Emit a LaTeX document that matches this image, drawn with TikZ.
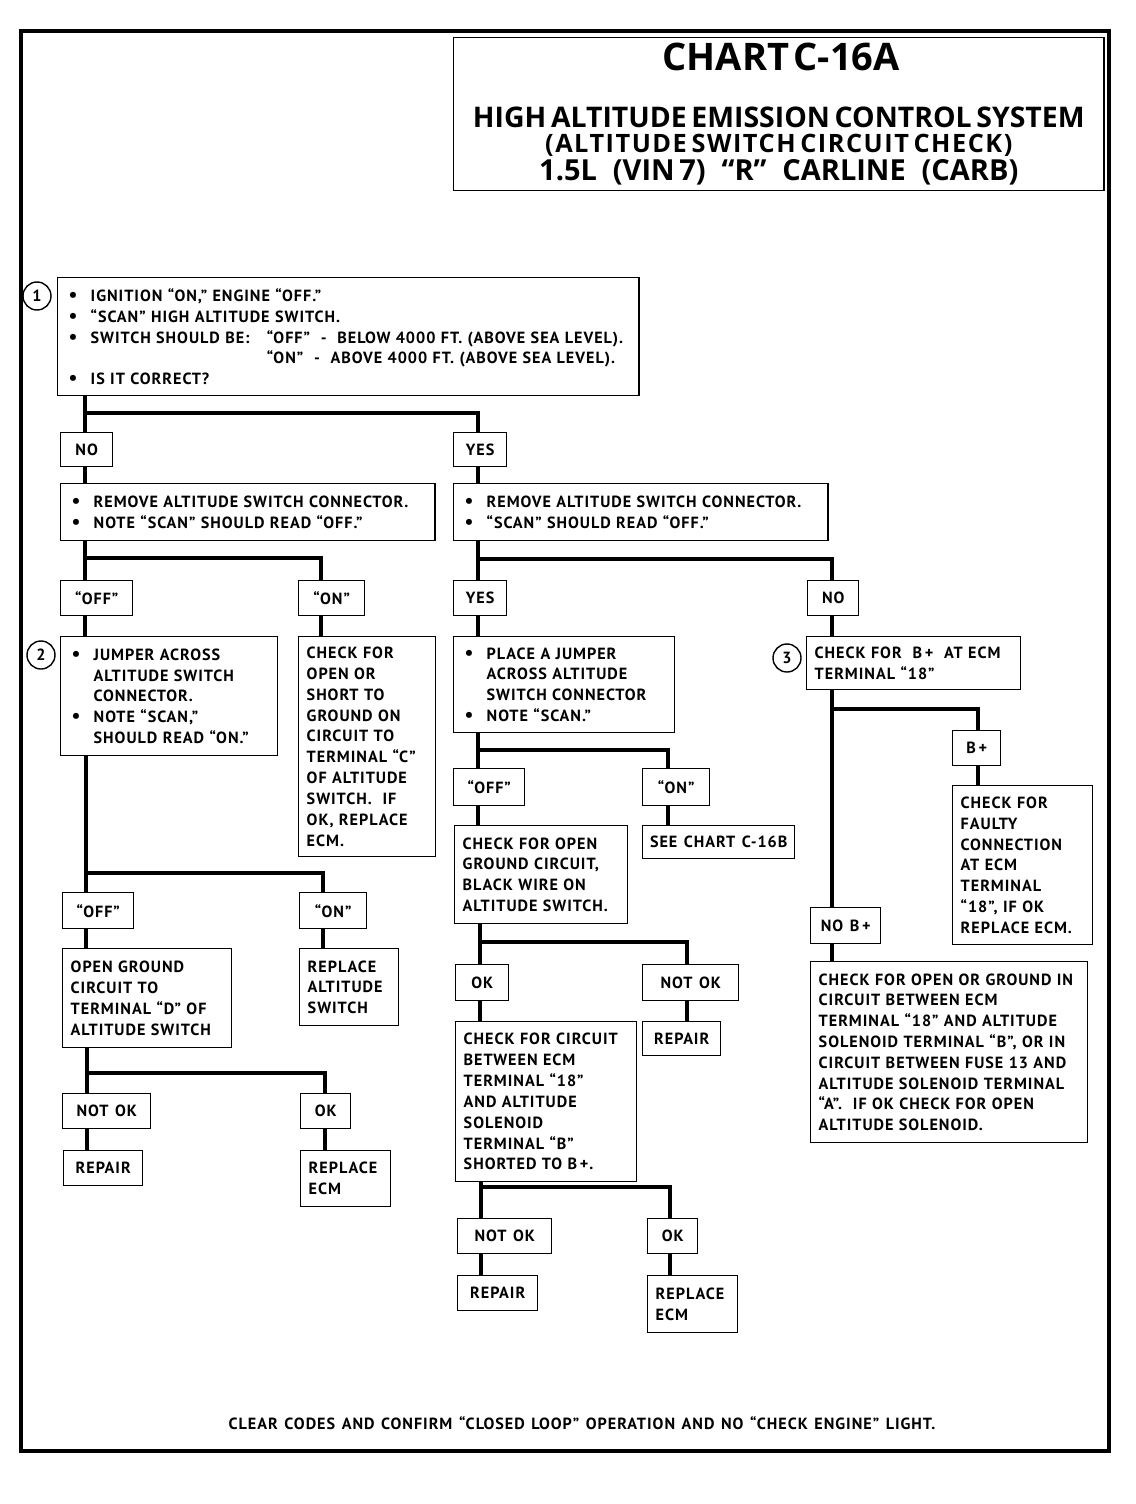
\documentclass[tikz,border=0pt]{standalone}
\usepackage{fontspec}
\setmainfont{PT Sans}[LetterSpace=6,WordSpace=1.3]
\newfontfamily\titlefont{Open Sans}
\newfontfamily\subtitlefont{Open Sans}[LetterSpace=6,WordSpace=2.2]
\usepackage{tikz}

\setlength{\parindent}{0pt}
\newcommand{\bodyfont}{\fontsize{11.5}{14.8}\selectfont\bfseries}
\newcommand{\blt}{\makebox[0.55cm][l]{\fontsize{14}{14}\selectfont\textbullet}}
\newcommand{\ind}{\hspace*{0.55cm}}
\newcommand{\gap}{\hspace{0.55em}}

\tikzset{
  box/.style={draw,line width=1pt,anchor=north west,align=left,inner xsep=0.2cm,inner ysep=2pt,font=\bodyfont},
  lbl/.style={draw,line width=1pt,anchor=north west,inner sep=0pt,font=\bodyfont},
  link/.style={line width=3.5pt},
  circ/.style={draw,circle,line width=1pt,minimum size=0.7cm,inner sep=0pt,font=\bodyfont}
}

\begin{document}
\begin{tikzpicture}[x=0.025cm,y=-0.025cm]
\useasboundingbox (0,0) rectangle (1136,1504);
\draw[line width=2.5pt] (21,31) rectangle (1109,1451);

% title
\node[draw,line width=1pt,anchor=north west,minimum width=16.25cm,minimum height=3.825cm,text width=15.8cm,align=center,font=\titlefont\bfseries] (title) at (453,37)
  {\vspace*{9pt}
   {\fontsize{27}{27}\selectfont CHART C-16A\par}
   {\fontsize{20.2}{31}\selectfont HIGH ALTITUDE EMISSION CONTROL SYSTEM\par}
   {\subtitlefont\bfseries\fontsize{18}{18}\selectfont (ALTITUDE SWITCH CIRCUIT CHECK)\par}
   {\fontsize{20.6}{20}\selectfont 1.5L\gap(VIN 7)\gap“R”\gap CARLINE\gap(CARB)\par}
   \vspace*{-20.5pt}};

% step boxes
\node[box,inner xsep=0.275cm,text width=13.975cm,minimum height=2.95cm] (b1) at (57,277)
  {\blt IGNITION “ON,” ENGINE “OFF.”\\
   \blt “SCAN” HIGH ALTITUDE SWITCH.\\
   \blt \makebox[4.4cm][l]{SWITCH SHOULD BE:}“OFF”\ \ -\ \ BELOW 4000 FT. (ABOVE SEA LEVEL).\\
   \hspace*{4.95cm}“ON”\ \ -\ \ ABOVE 4000 FT. (ABOVE SEA LEVEL).\\
   \blt IS IT CORRECT?};
\node[circ] (c1) at (37,296) {1};

\node[box,inner xsep=0.275cm,text width=8.8cm,minimum height=1.425cm] (nact) at (60,483)
  {\blt REMOVE ALTITUDE SWITCH CONNECTOR.\\ \blt NOTE “SCAN” SHOULD READ “OFF.”};
\node[box,inner xsep=0.275cm,text width=8.8cm,minimum height=1.425cm] (yact) at (453,483)
  {\blt REMOVE ALTITUDE SWITCH CONNECTOR.\\ \blt “SCAN” SHOULD READ “OFF.”};

\node[box,inner xsep=0.275cm,text width=4.875cm,minimum height=2.975cm] (jump) at (60,636)
  {\blt JUMPER ACROSS\\ \ind ALTITUDE SWITCH\\ \ind CONNECTOR.\\ \blt NOTE “SCAN,”\\ \ind SHOULD READ “ON.”};
\node[circ] (c2) at (41,655) {2};
\node[box,text width=3.025cm,minimum height=5.5cm] (chkc) at (298,636)
  {CHECK FOR\\ OPEN OR\\ SHORT TO\\ GROUND ON\\ CIRCUIT TO\\ TERMINAL “C”\\ OF ALTITUDE\\ SWITCH.\ \ IF\\ OK, REPLACE\\ ECM.};
\node[box,text width=3.825cm,minimum height=2.475cm] (opgd) at (62,948)
  {OPEN GROUND\\ CIRCUIT TO\\ TERMINAL “D” OF\\ ALTITUDE SWITCH};
\node[box,text width=2.075cm,minimum height=1.925cm] (rpsw) at (299,948)
  {REPLACE\\ ALTITUDE\\ SWITCH};
\node[box,text width=1.85cm,minimum height=1.4cm] (gecm) at (300,1150) {REPLACE\\ ECM};

\node[box,inner xsep=0.275cm,text width=4.975cm,minimum height=2.4cm] (pjmp) at (453,636)
  {\blt PLACE A JUMPER\\ \ind ACROSS ALTITUDE\\ \ind SWITCH CONNECTOR\\ \blt NOTE “SCAN.”};
\node[box,text width=3.925cm,minimum height=2.45cm] (opgc) at (454,825)
  {CHECK FOR OPEN\\ GROUND CIRCUIT,\\ BLACK WIRE ON\\ ALTITUDE SWITCH.};
\node[box,text width=4.125cm,minimum height=4cm] (ckt) at (455,1021)
  {CHECK FOR CIRCUIT\\ BETWEEN ECM\\ TERMINAL “18”\\ AND ALTITUDE\\ SOLENOID\\ TERMINAL “B”\\ SHORTED TO B\,+.};
\node[box,text width=1.85cm,minimum height=1.425cm] (secm) at (647,1275) {REPLACE\\ ECM};

\node[box,text width=4.95cm,minimum height=1.325cm] (chkb) at (806,636)
  {CHECK FOR\ \ B\,+\ \ AT ECM\\ TERMINAL “18”};
\node[circ] (c3) at (787,658) {3};
\node[box,text width=3.1cm,minimum height=3.975cm] (falt) at (952,785)
  {CHECK FOR\\ FAULTY\\ CONNECTION\\ AT ECM\\ TERMINAL\\ “18”, IF OK\\ REPLACE ECM.};
\node[box,text width=6.525cm,minimum height=4.525cm] (opgr) at (810,961)
  {CHECK FOR OPEN OR GROUND IN\\ CIRCUIT BETWEEN ECM\\ TERMINAL “18” AND ALTITUDE\\ SOLENOID TERMINAL “B”, OR IN\\ CIRCUIT BETWEEN FUSE 13 AND\\ ALTITUDE SOLENOID TERMINAL\\ “A”.\ \ IF OK CHECK FOR OPEN\\ ALTITUDE SOLENOID.};

% answer boxes
\foreach \n/\x/\y/\w/\h/\t in {no/60/432/1.3/0.85/NO, yes/453/432/1.325/0.85/YES,
  noff/60/580/1.8/0.875/“OFF”, non/298/580/1.65/0.875/“ON”,
  joff/62/892/1.775/0.9/“OFF”, jon/299/892/1.675/0.9/“ON”,
  gnok/62/1093/2.2/0.875/NOT OK, gok/300/1093/1.25/0.875/OK,
  grep/63/1150/1.975/0.875/REPAIR,
  yyes/453/580/1.325/0.875/YES, yno/807/580/1.275/0.875/NO,
  poff/453/768/1.775/0.925/“OFF”, pon/642/768/1.675/0.925/“ON”,
  seec/642/825/3.8/0.825/SEE CHART C-16B,
  cok/455/964/1.325/0.9/OK, cnok/642/964/2.4/0.9/NOT OK,
  crep/642/1021/1.95/0.85/REPAIR,
  snok/457/1218/2.35/0.875/NOT OK, sok/647/1218/1.25/0.875/OK,
  srep/457/1275/2.0/0.875/REPAIR,
  bp/952/730/1.2/0.875/B\,+, nobp/810/907/1.75/0.9/NO B\,+}{
  \node[lbl,minimum width=\w cm,minimum height=\h cm] (\n) at (\x,\y) {\t};
  }

% forks
\coordinate (f1) at (85,413);   \coordinate (g1) at (478,413);
\coordinate (f2) at (85,558);   \coordinate (g2) at (321,558);
\coordinate (f3) at (86,873);   \coordinate (g3) at (323,873);
\coordinate (f4) at (87,1073);  \coordinate (g4) at (325,1073);
\coordinate (f5) at (478,559);  \coordinate (g5) at (832,559);
\coordinate (f6) at (478,750);  \coordinate (g6) at (668,750);
\coordinate (f7) at (480,942);  \coordinate (g7) at (687,942);
\coordinate (f8) at (481,1187); \coordinate (g8) at (670,1187);
\coordinate (f9) at (832,709);  \coordinate (g9) at (978,709);

\draw[link] (b1.south -| f1) -- (no.north -| f1) (f1) -- (g1) -- (yes.north -| g1);
\draw[link] (no.south -| f1) -- (nact.north -| f1) (yes.south -| g1) -- (yact.north -| g1);
\draw[link] (nact.south -| f2) -- (noff.north -| f2) (f2) -- (g2) -- (non.north -| g2);
\draw[link] (noff.south -| f2) -- (jump.north -| f2) (non.south -| g2) -- (chkc.north -| g2);
\draw[link] (jump.south -| f3) -- (joff.north -| f3) (f3) -- (g3) -- (jon.north -| g3);
\draw[link] (joff.south -| f3) -- (opgd.north -| f3) (jon.south -| g3) -- (rpsw.north -| g3);
\draw[link] (opgd.south -| f4) -- (gnok.north -| f4) (f4) -- (g4) -- (gok.north -| g4);
\draw[link] (gnok.south -| f4) -- (grep.north -| f4) (gok.south -| g4) -- (gecm.north -| g4);
\draw[link] (yact.south -| f5) -- (yyes.north -| f5) (f5) -- (g5) -- (yno.north -| g5);
\draw[link] (yyes.south -| f5) -- (pjmp.north -| f5) (yno.south -| g5) -- (chkb.north -| g5);
\draw[link] (pjmp.south -| f6) -- (poff.north -| f6) (f6) -- (g6) -- (pon.north -| g6);
\draw[link] (poff.south -| f6) -- (opgc.north -| f6) (pon.south -| g6) -- (seec.north -| g6);
\draw[link] (opgc.south -| f7) -- (cok.north -| f7) (f7) -- (g7) -- (cnok.north -| g7);
\draw[link] (cok.south -| f7) -- (ckt.north -| f7) (cnok.south -| g7) -- (crep.north -| g7);
\draw[link] (ckt.south -| f8) -- (snok.north -| f8) (f8) -- (g8) -- (sok.north -| g8);
\draw[link] (snok.south -| f8) -- (srep.north -| f8) (sok.south -| g8) -- (secm.north -| g8);
\draw[link] (chkb.south -| f9) -- (nobp.north -| f9) (f9) -- (g9) -- (bp.north -| g9);
\draw[link] (bp.south -| g9) -- (falt.north -| g9) (nobp.south -| f9) -- (opgr.north -| f9);

\node[font=\bodyfont] (foot) at (582,1423) {CLEAR CODES AND CONFIRM “CLOSED LOOP” OPERATION AND NO “CHECK ENGINE” LIGHT.};
\end{tikzpicture}
\end{document}
